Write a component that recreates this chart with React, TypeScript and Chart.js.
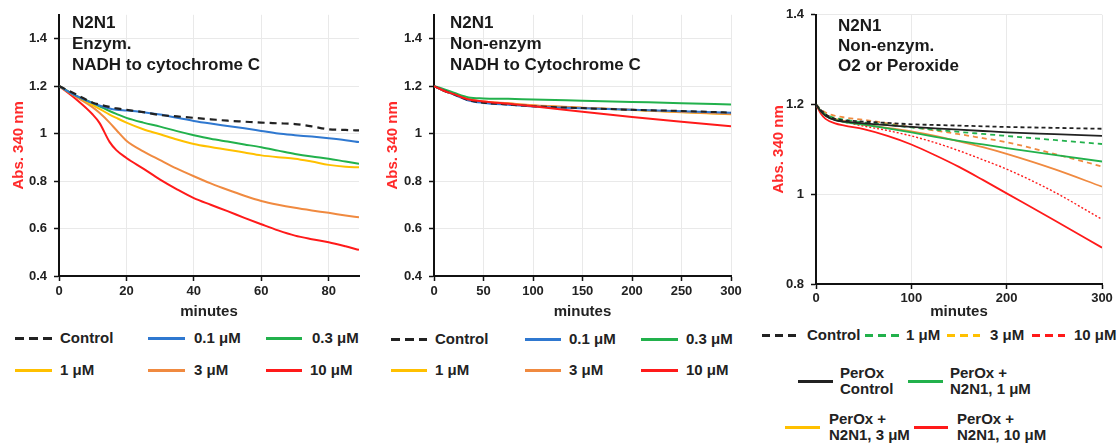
import React, { useEffect, useRef } from "react";
import { Chart, registerables } from "chart.js";
Chart.register(...registerables);

const FONT = "'Liberation Sans', Arial, Helvetica, sans-serif";

// ---------- Panel 1: Enzym. NADH to cytochrome C ----------
const enzMinutes = [0, 5, 10, 12, 15, 17, 20, 25, 30, 35, 40, 45, 50, 55, 60, 65, 70, 75, 80, 85, 89];
const enzControl = [1.2, 1.165, 1.13, 1.122, 1.112, 1.106, 1.1, 1.09, 1.078, 1.072, 1.066, 1.06, 1.054, 1.05, 1.046, 1.043, 1.04, 1.03, 1.018, 1.015, 1.013];
const enz01 = [1.2, 1.16, 1.128, 1.118, 1.105, 1.1, 1.097, 1.09, 1.08, 1.066, 1.053, 1.042, 1.032, 1.022, 1.011, 1.0, 0.993, 0.987, 0.98, 0.972, 0.964];
const enz03 = [1.2, 1.16, 1.128, 1.115, 1.095, 1.083, 1.066, 1.046, 1.029, 1.01, 0.993, 0.978, 0.966, 0.954, 0.942, 0.928, 0.914, 0.903, 0.894, 0.882, 0.873];
const enz1 = [1.2, 1.16, 1.12, 1.104, 1.08, 1.066, 1.046, 1.018, 0.997, 0.975, 0.956, 0.943, 0.932, 0.92, 0.908, 0.9, 0.894, 0.882, 0.868, 0.86, 0.858];
const enz3 = [1.2, 1.155, 1.11, 1.087, 1.046, 1.015, 0.97, 0.925, 0.888, 0.852, 0.82, 0.79, 0.763, 0.738, 0.716, 0.7, 0.687, 0.676, 0.666, 0.655, 0.647];
const enz10 = [1.2, 1.145, 1.08, 1.045, 0.965, 0.93, 0.897, 0.852, 0.806, 0.765, 0.728, 0.7, 0.673, 0.645, 0.618, 0.592, 0.57, 0.555, 0.542, 0.525, 0.51];
const enzXTicks = [0, 20, 40, 60, 80];

// ---------- Panel 2: Non-enzym NADH to Cytochrome C ----------
const nonMinutes = [0, 10, 20, 35, 50, 75, 100, 150, 200, 250, 300];
const nonControl = [1.2, 1.18, 1.165, 1.14, 1.13, 1.122, 1.115, 1.107, 1.1, 1.095, 1.088];
const non01 = [1.2, 1.18, 1.164, 1.139, 1.129, 1.121, 1.114, 1.106, 1.1, 1.094, 1.088];
const non03 = [1.2, 1.187, 1.172, 1.152, 1.148, 1.146, 1.143, 1.138, 1.133, 1.128, 1.122];
const non1 = [1.2, 1.18, 1.166, 1.143, 1.134, 1.126, 1.118, 1.108, 1.099, 1.09, 1.081];
const non3 = [1.2, 1.181, 1.167, 1.144, 1.135, 1.127, 1.119, 1.109, 1.1, 1.091, 1.082];
const non10 = [1.2, 1.18, 1.166, 1.143, 1.135, 1.125, 1.115, 1.092, 1.07, 1.05, 1.031];
const nonXTicks = [0, 50, 100, 150, 200, 250, 300];

const absTicks = [0.4, 0.6, 0.8, 1.0, 1.2, 1.4];

// ---------- Panel 3: Non-enzym. O2 or Peroxide ----------
const oxMinutes = [0, 5, 10, 20, 30, 50, 75, 100, 125, 150, 175, 200, 250, 300];
const o2Control = [1.2, 1.188, 1.178, 1.168, 1.165, 1.162, 1.159, 1.156, 1.1545, 1.153, 1.1515, 1.15, 1.148, 1.146];
const o2N1 = [1.2, 1.188, 1.178, 1.17, 1.166, 1.16, 1.155, 1.149, 1.144, 1.139, 1.1345, 1.13, 1.121, 1.112];
const o2N3 = [1.2, 1.19, 1.182, 1.175, 1.171, 1.166, 1.158, 1.15, 1.142, 1.134, 1.125, 1.116, 1.09, 1.062];
const o2N10 = [1.2, 1.185, 1.176, 1.166, 1.161, 1.152, 1.142, 1.13, 1.115, 1.097, 1.077, 1.056, 1.005, 0.944];
const perControl = [1.2, 1.185, 1.175, 1.165, 1.162, 1.158, 1.154, 1.15, 1.147, 1.144, 1.141, 1.138, 1.134, 1.13];
const perN1 = [1.2, 1.185, 1.175, 1.166, 1.161, 1.155, 1.147, 1.138, 1.128, 1.119, 1.111, 1.103, 1.088, 1.073];
const perN3 = [1.2, 1.186, 1.177, 1.168, 1.163, 1.155, 1.148, 1.14, 1.13, 1.118, 1.105, 1.09, 1.056, 1.017];
const perN10 = [1.2, 1.18, 1.168, 1.158, 1.153, 1.145, 1.13, 1.111, 1.087, 1.061, 1.032, 1.002, 0.942, 0.881];
const oxXTicks = [0, 100, 200, 300];
const oxYTicks = [0.8, 1.0, 1.2, 1.4];

const BLACK = "#222222";
const BLUE = "#2f78d0";
const GREEN = "#22b14c";
const YELLOW = "#ffc000";
const ORANGE = "#f08a40";
const RED = "#ff1a1a";

function series(xs: number[], ys: number[], color: string, width = 2, dash: number[] = [], order = 0) {
  return {
    data: xs.map((x, i) => ({ x, y: ys[i] })),
    borderColor: color,
    backgroundColor: color,
    borderWidth: width,
    borderDash: dash,
    pointRadius: 0,
    fill: false,
    order,
    cubicInterpolationMode: "monotone" as const,
  };
}

type PanelProps = {
  left: number;
  width: number;
  height: number;
  areaLeft: number;
  areaRight: number;
  areaTop: number;
  areaBottom: number;
  xMax: number;
  xTicks: number[];
  yMin: number;
  yMax: number;
  yTicks: number[];
  yTitlePad: number;
  xLabelPad: number;
  makeData: () => any[];
};

function Panel(p: PanelProps) {
  const ref = useRef<HTMLCanvasElement>(null);
  useEffect(() => {
    const tickFont = { family: FONT, size: 13, weight: "bold" as const };
    const chart = new Chart(ref.current!, {
      type: "line",
      data: { datasets: p.makeData() },
      options: {
        animation: false,
        responsive: false,
        layout: { padding: { left: 0, right: p.width - p.areaRight, top: p.areaTop, bottom: 0 } },
        plugins: { legend: { display: false }, tooltip: { enabled: false } },
        scales: {
          x: {
            type: "linear",
            min: 0,
            max: p.xMax,
            afterBuildTicks: (s: any) => {
              s.ticks = p.xTicks.map((v) => ({ value: v }));
            },
            afterFit: (s: any) => {
              s.height = p.height - p.areaBottom;
            },
            grid: { color: "#e9e9e9", lineWidth: 1, tickColor: "#111", tickLength: 5, tickWidth: 1.5 },
            border: { color: "#111", width: 2 },
            ticks: { font: tickFont, color: "#222", padding: p.xLabelPad, maxRotation: 0, callback: (v: any) => String(v) },
            title: { display: true, text: "minutes", font: { family: FONT, size: 15, weight: "bold" }, color: "#222", padding: { top: 4, bottom: 4 } },
          },
          y: {
            type: "linear",
            min: p.yMin,
            max: p.yMax,
            afterBuildTicks: (s: any) => {
              s.ticks = p.yTicks.map((v) => ({ value: v }));
            },
            afterFit: (s: any) => {
              s.width = p.areaLeft;
            },
            grid: { color: "#e9e9e9", lineWidth: 1, tickColor: "#111", tickLength: 5, tickWidth: 1.5 },
            border: { color: "#111", width: 2 },
            ticks: { font: tickFont, color: "#222", padding: 7, callback: (v: any) => String(Number(Number(v).toFixed(2))) },
            title: { display: true, text: "Abs. 340 nm", font: { family: FONT, size: 15, weight: "bold" }, color: "#ff2a2a", padding: { top: p.yTitlePad, bottom: 0 } },
          },
        },
      },
    });
    return () => chart.destroy();
  }, []);
  return <canvas ref={ref} width={p.width} height={p.height} style={{ position: "absolute", left: p.left, top: 0, width: p.width, height: p.height }} />;
}

function Key(props: { x: number; y: number; w: number; color: string; dash?: boolean; dashLen?: number; thick?: number; tx: number; label: string }) {
  const { x, y, w, color, dash, tx, label } = props;
  const d = props.dashLen ?? 9;
  const th = props.thick ?? 3;
  const bg = dash ? `repeating-linear-gradient(90deg, ${color} 0 ${d}px, transparent ${d}px ${d + 5}px)` : color;
  return (
    <>
      <div style={{ position: "absolute", left: x, top: y - th / 2, width: w, height: th, background: bg }} />
      <div
        style={{
          position: "absolute",
          left: tx,
          top: y,
          transform: "translateY(-50%)",
          font: `bold 15px ${FONT}`,
          lineHeight: "16px",
          color: "#222",
          whiteSpace: "pre",
        }}
      >
        {label}
      </div>
    </>
  );
}

function Note(props: { x: number; y: number; lh: number; lines: string[] }) {
  return (
    <div style={{ position: "absolute", left: props.x, top: props.y, font: `bold 17px ${FONT}`, lineHeight: `${props.lh}px`, color: "#1a1a1a", whiteSpace: "pre" }}>
      {props.lines.join("\n")}
    </div>
  );
}

export default function App() {
  return (
    <div style={{ position: "absolute", left: 0, top: 0, width: 1118, height: 444, background: "#fff", overflow: "hidden" }}>
      <Panel
        left={0}
        width={373}
        height={325}
        areaLeft={59}
        areaRight={359}
        areaTop={10}
        areaBottom={276}
        xMax={89}
        xTicks={enzXTicks}
        yMin={0.4}
        yMax={1.5}
        yTicks={absTicks}
        yTitlePad={9.5}
        xLabelPad={3}
        makeData={() => [
          series(enzMinutes, enzControl, BLACK, 2.2, [7, 5], 0),
          series(enzMinutes, enz01, BLUE, 2, [], 1),
          series(enzMinutes, enz03, GREEN, 2, [], 2),
          series(enzMinutes, enz1, YELLOW, 2, [], 3),
          series(enzMinutes, enz3, ORANGE, 2, [], 4),
          series(enzMinutes, enz10, RED, 2, [], 5),
        ]}
      />
      <Panel
        left={373}
        width={373}
        height={325}
        areaLeft={61}
        areaRight={358}
        areaTop={10}
        areaBottom={276}
        xMax={300}
        xTicks={nonXTicks}
        yMin={0.4}
        yMax={1.5}
        yTicks={absTicks}
        yTitlePad={11}
        xLabelPad={3}
        makeData={() => [
          series(nonMinutes, non10, RED, 2, [], 0),
          series(nonMinutes, nonControl, BLACK, 2, [6, 4], 1),
          series(nonMinutes, non01, BLUE, 2, [], 2),
          series(nonMinutes, non03, GREEN, 2, [], 3),
          series(nonMinutes, non3, ORANGE, 2, [], 4),
          series(nonMinutes, non1, YELLOW, 2, [], 5),
        ]}
      />
      <Panel
        left={746}
        width={372}
        height={325}
        areaLeft={70}
        areaRight={356}
        areaTop={13}
        areaBottom={284}
        xMax={300}
        xTicks={oxXTicks}
        yMin={0.8}
        yMax={1.4}
        yTicks={oxYTicks}
        yTitlePad={24}
        xLabelPad={2}
        makeData={() => [
          series(oxMinutes, o2Control, BLACK, 1.8, [4, 3], 0),
          series(oxMinutes, perControl, BLACK, 1.8, [], 1),
          series(oxMinutes, o2N1, GREEN, 1.8, [5, 4], 2),
          series(oxMinutes, perN1, GREEN, 1.8, [], 3),
          series(oxMinutes, o2N3, ORANGE, 1.8, [5, 4], 4),
          series(oxMinutes, perN3, ORANGE, 1.8, [], 5),
          series(oxMinutes, o2N10, RED, 1.4, [2, 2], 6),
          series(oxMinutes, perN10, RED, 1.8, [], 7),
        ]}
      />

      <Note x={72} y={11.5} lh={21} lines={["N2N1", "Enzym.", "NADH to cytochrome C"]} />
      <Note x={450} y={11.5} lh={21} lines={["N2N1", "Non-enzym", "NADH to Cytochrome C"]} />
      <Note x={838} y={16} lh={20} lines={["N2N1", "Non-enzym.", "O2 or Peroxide"]} />

      {/* Panel 1 legend */}
      <Key x={15} y={338} w={37} color={BLACK} dash tx={60} label="Control" />
      <Key x={148} y={338} w={37} color={BLUE} tx={194} label="0.1 μM" />
      <Key x={266} y={338} w={36} color={GREEN} tx={312} label="0.3 μM" />
      <Key x={15} y={370} w={37} color={YELLOW} tx={60} label="1 μM" />
      <Key x={148} y={370} w={37} color={ORANGE} tx={194} label="3 μM" />
      <Key x={266} y={370} w={36} color={RED} tx={310} label="10 μM" />

      {/* Panel 2 legend */}
      <Key x={391} y={339} w={36} color={BLACK} dash tx={435} label="Control" />
      <Key x={525} y={339} w={36} color={BLUE} tx={569} label="0.1 μM" />
      <Key x={641} y={339} w={37} color={GREEN} tx={686} label="0.3 μM" />
      <Key x={391} y={370} w={36} color={YELLOW} tx={435} label="1 μM" />
      <Key x={525} y={370} w={36} color={ORANGE} tx={569} label="3 μM" />
      <Key x={641} y={370} w={37} color={RED} tx={686} label="10 μM" />

      {/* Panel 3 legend */}
      <Key x={762} y={335} w={34} color={BLACK} dash dashLen={8} tx={807} label="Control" />
      <Key x={865} y={335} w={34} color={GREEN} dash dashLen={8} tx={906} label="1 μM" />
      <Key x={947} y={335} w={33} color={YELLOW} dash dashLen={8} tx={990} label="3 μM" />
      <Key x={1032} y={335} w={33} color={RED} dash dashLen={8} tx={1074} label="10 μM" />
      <Key x={798} y={381} w={35} color={BLACK} tx={840} label={"PerOx\nControl"} />
      <Key x={908} y={381} w={35} color={GREEN} tx={950} label={"PerOx +\nN2N1, 1 μM"} />
      <Key x={785} y={427} w={35} color={YELLOW} tx={829} label={"PerOx +\nN2N1, 3 μM"} />
      <Key x={914} y={427} w={34} color={RED} tx={957} label={"PerOx +\nN2N1, 10 μM"} />
    </div>
  );
}
